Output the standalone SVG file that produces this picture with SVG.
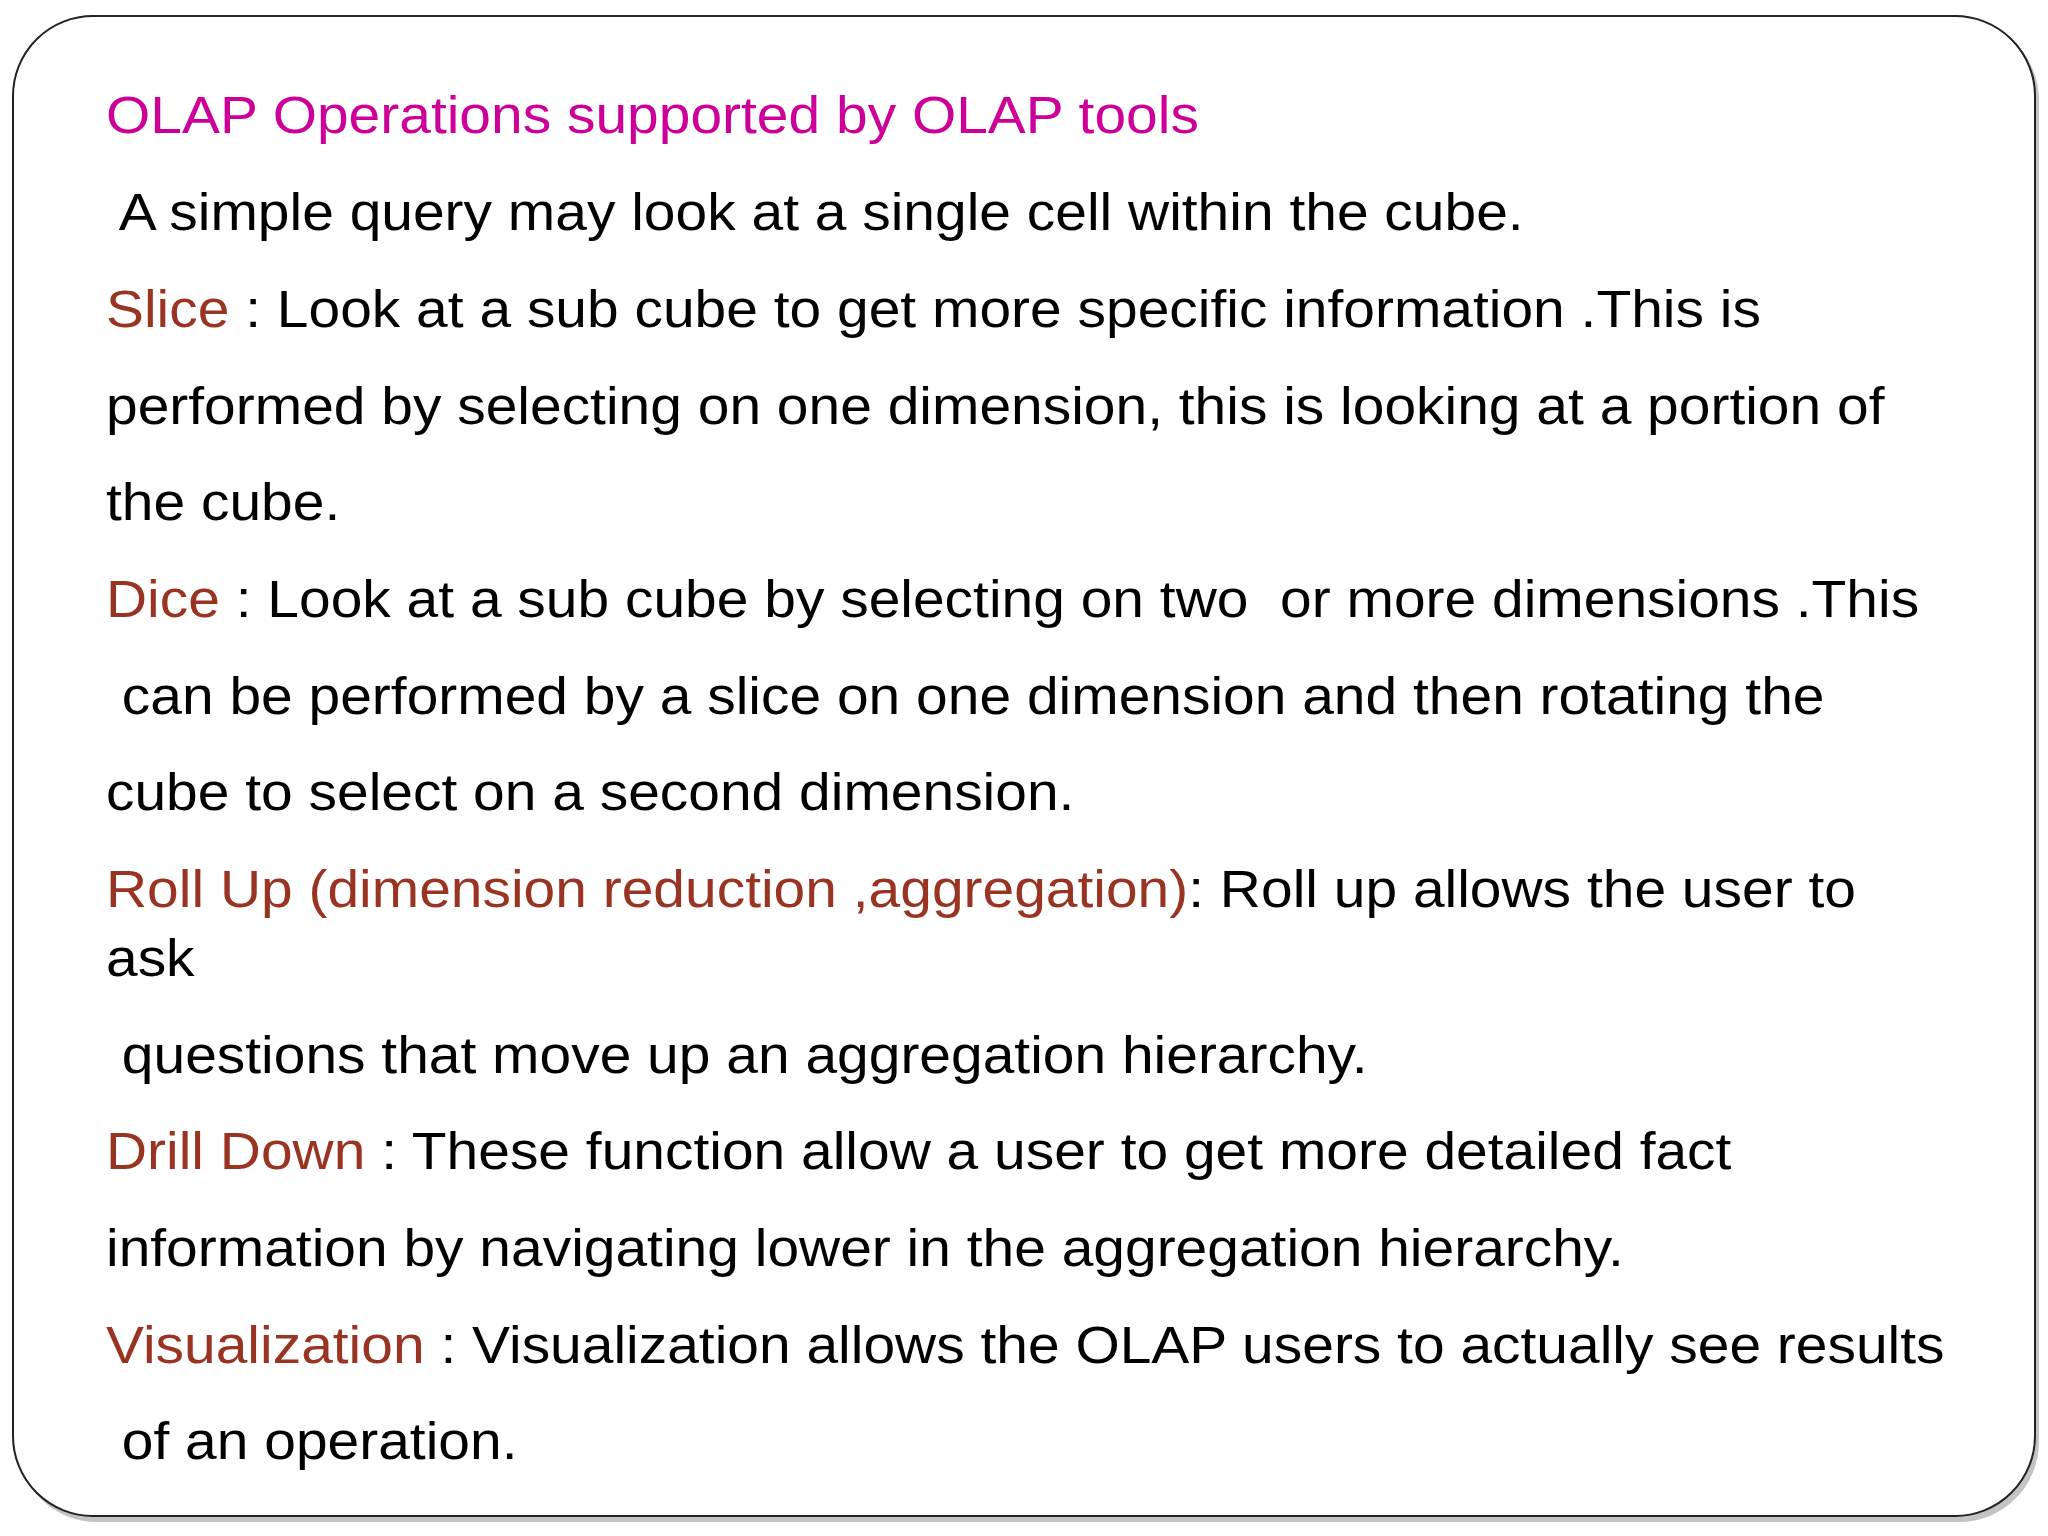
<svg xmlns="http://www.w3.org/2000/svg" width="2048" height="1536" viewBox="0 0 2048 1536">
<style>
text{font-family:"Liberation Sans",Arial,sans-serif;font-size:52px;fill:#000}
.t{fill:#CC0099}
.k{fill:#993322}
</style>
<rect width="2048" height="1536" fill="#fff"/>
<rect x="17" y="20" width="2022" height="1502" rx="80" fill="#888" opacity="0.5"/>
<rect x="13" y="16" width="2022" height="1500" rx="80" fill="#fff" stroke="#222" stroke-width="2"/>
<g id="content" transform="translate(106 0) scale(1.095 1) translate(-106 0)">
<text class="t" x="106" y="133">OLAP Operations supported by OLAP tools</text>
<text x="106" y="230" xml:space="preserve"> A simple query may look at a single cell within the cube.</text>
<text x="106" y="327"><tspan class="k">Slice</tspan> : Look at a sub cube to get more specific information .This is</text>
<text x="106" y="424">performed by selecting on one dimension, this is looking at a portion of</text>
<text x="106" y="520">the cube.</text>
<text x="106" y="617" xml:space="preserve"><tspan class="k">Dice</tspan> : Look at a sub cube by selecting on two  or more dimensions .This</text>
<text x="106" y="714" xml:space="preserve"> can be performed by a slice on one dimension and then rotating the</text>
<text x="106" y="810">cube to select on a second dimension.</text>
<text x="106" y="907"><tspan class="k">Roll Up (dimension reduction ,aggregation)</tspan>: Roll up allows the user to</text>
<text x="106" y="976">ask</text>
<text x="106" y="1073" xml:space="preserve"> questions that move up an aggregation hierarchy.</text>
<text x="106" y="1169"><tspan class="k">Drill Down</tspan> : These function allow a user to get more detailed fact</text>
<text x="106" y="1266">information by navigating lower in the aggregation hierarchy.</text>
<text x="106" y="1363"><tspan class="k">Visualization</tspan> : Visualization allows the OLAP users to actually see results</text>
<text x="106" y="1459" xml:space="preserve"> of an operation.</text>
</g>
</svg>
